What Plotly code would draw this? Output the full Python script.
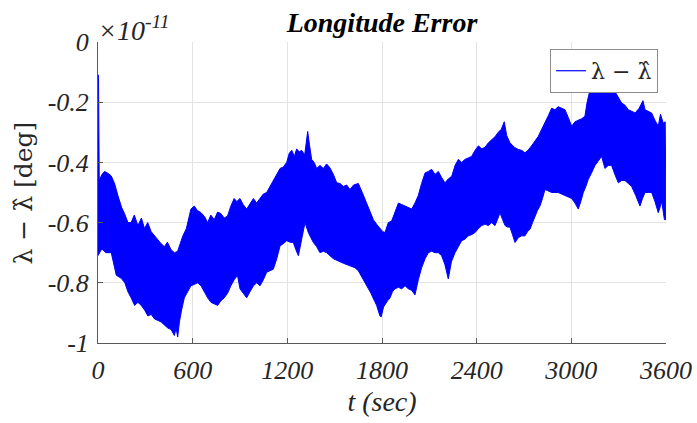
import plotly.graph_objects as go

# Upper envelope of the noisy error signal (time in s, value in units of 1e-11 deg)
t_upper = [0, 3, 8, 25, 42, 60, 84, 105, 126, 150, 168, 190, 210, 230, 253, 275, 295, 315, 337, 360,
           379, 400, 421, 440, 463, 485, 505, 520, 537, 560, 575, 589, 610, 630, 653, 675, 695, 715, 737, 758,
           779, 800, 821, 842, 863, 880, 900, 920, 942, 965, 985, 1005, 1027, 1048, 1069, 1090, 1111, 1133, 1154, 1175,
           1196, 1212, 1228, 1245, 1259, 1275, 1291, 1310, 1329, 1340, 1354, 1370, 1386, 1407, 1428, 1449, 1470, 1492, 1513, 1534,
           1555, 1576, 1597, 1620, 1650, 1675, 1703, 1725, 1745, 1765, 1787, 1805, 1819, 1840, 1861, 1882, 1904, 1925, 1946, 1967,
           1988, 2009, 2030, 2051, 2073, 2094, 2115, 2136, 2157, 2178, 2199, 2220, 2242, 2263, 2284, 2305, 2326, 2347, 2368, 2390,
           2411, 2432, 2453, 2474, 2495, 2516, 2537, 2556, 2575, 2590, 2611, 2640, 2664, 2685, 2706, 2725, 2748, 2769, 2791, 2812,
           2833, 2854, 2875, 2896, 2917, 2938, 2960, 2980, 3002, 3023, 3044, 3065, 3086, 3100, 3118, 3140, 3171, 3200, 3224, 3250,
           3277, 3298, 3319, 3340, 3361, 3382, 3404, 3430, 3454, 3467, 3488, 3509, 3530, 3551, 3565, 3583, 3595]
v_upper = [-0.11, -0.11, -0.46, -0.44, -0.43, -0.435, -0.445, -0.47, -0.51, -0.55, -0.57, -0.60, -0.60, -0.575, -0.61, -0.585, -0.62, -0.60, -0.63, -0.645,
           -0.66, -0.67, -0.68, -0.665, -0.69, -0.70, -0.695, -0.67, -0.645, -0.62, -0.58, -0.555, -0.545, -0.56, -0.567, -0.58, -0.60, -0.575, -0.59, -0.565,
           -0.57, -0.585, -0.578, -0.545, -0.52, -0.53, -0.52, -0.54, -0.555, -0.535, -0.52, -0.535, -0.52, -0.505, -0.50, -0.48, -0.457, -0.44, -0.42, -0.415,
           -0.40, -0.37, -0.36, -0.38, -0.355, -0.365, -0.36, -0.375, -0.297, -0.34, -0.39, -0.40, -0.42, -0.41, -0.42, -0.405, -0.418, -0.44, -0.468, -0.47,
           -0.48, -0.475, -0.49, -0.475, -0.47, -0.50, -0.535, -0.565, -0.59, -0.605, -0.62, -0.63, -0.633, -0.60, -0.595, -0.565, -0.535, -0.54, -0.545, -0.55,
           -0.555, -0.535, -0.51, -0.47, -0.435, -0.43, -0.423, -0.44, -0.43, -0.45, -0.468, -0.455, -0.446, -0.41, -0.39, -0.40, -0.39, -0.385, -0.38, -0.36,
           -0.345, -0.355, -0.35, -0.335, -0.325, -0.315, -0.30, -0.29, -0.265, -0.31, -0.335, -0.35, -0.357, -0.36, -0.368, -0.36, -0.345, -0.33, -0.313, -0.29,
           -0.27, -0.245, -0.22, -0.225, -0.215, -0.22, -0.225, -0.25, -0.28, -0.265, -0.26, -0.255, -0.247, -0.20, -0.16, -0.15, -0.145, -0.14, -0.145, -0.15,
           -0.165, -0.185, -0.203, -0.21, -0.225, -0.23, -0.236, -0.22, -0.195, -0.225, -0.23, -0.236, -0.26, -0.28, -0.24, -0.27, -0.265]

# Lower envelope
t_lower = [0, 5, 20, 30, 50, 84, 100, 116, 147, 170, 190, 210, 232, 253, 274, 295, 316, 337, 358, 380,
           400, 421, 442, 463, 484, 495, 505, 516, 530, 547, 568, 589, 610, 632, 653, 674, 695, 716, 737, 758,
           779, 800, 821, 842, 863, 884, 900, 921, 942, 963, 985, 1006, 1027, 1048, 1069, 1090, 1111, 1133, 1154, 1175,
           1196, 1217, 1238, 1254, 1270, 1291, 1312, 1333, 1349, 1365, 1386, 1407, 1428, 1449, 1470, 1492, 1513, 1534, 1555, 1576,
           1600, 1629, 1650, 1671, 1692, 1714, 1730, 1745, 1766, 1787, 1795, 1810, 1819, 1835, 1851, 1866, 1882, 1904, 1925, 1946,
           1967, 1988, 2009, 2030, 2051, 2073, 2094, 2115, 2136, 2157, 2178, 2199, 2220, 2240, 2263, 2284, 2305, 2326, 2347, 2368,
           2390, 2411, 2432, 2453, 2474, 2495, 2516, 2532, 2548, 2564, 2580, 2596, 2611, 2627, 2643, 2664, 2685, 2706, 2722, 2738,
           2754, 2769, 2785, 2801, 2817, 2833, 2854, 2875, 2896, 2917, 2938, 2960, 2981, 3002, 3023, 3044, 3060, 3076, 3092, 3107,
           3128, 3150, 3171, 3192, 3213, 3234, 3255, 3276, 3298, 3319, 3340, 3361, 3382, 3408, 3435, 3451, 3467, 3488, 3509, 3530,
           3551, 3562, 3573, 3590, 3600]
v_lower = [-0.71, -0.71, -0.69, -0.69, -0.70, -0.70, -0.74, -0.775, -0.785, -0.80, -0.83, -0.85, -0.875, -0.865, -0.875, -0.89, -0.91, -0.905, -0.92, -0.925,
           -0.93, -0.94, -0.95, -0.955, -0.975, -0.95, -0.98, -0.93, -0.89, -0.85, -0.83, -0.81, -0.805, -0.80, -0.81, -0.83, -0.85, -0.865, -0.87, -0.875,
           -0.86, -0.85, -0.835, -0.81, -0.79, -0.775, -0.82, -0.835, -0.85, -0.83, -0.81, -0.80, -0.81, -0.79, -0.765, -0.76, -0.755, -0.72, -0.677, -0.67,
           -0.66, -0.665, -0.666, -0.69, -0.71, -0.66, -0.60, -0.633, -0.65, -0.666, -0.68, -0.70, -0.695, -0.70, -0.71, -0.72, -0.725, -0.73, -0.735, -0.74,
           -0.745, -0.75, -0.76, -0.776, -0.80, -0.82, -0.835, -0.85, -0.875, -0.91, -0.913, -0.88, -0.875, -0.86, -0.85, -0.83, -0.82, -0.815, -0.82, -0.81,
           -0.82, -0.825, -0.84, -0.79, -0.75, -0.72, -0.70, -0.695, -0.70, -0.70, -0.71, -0.74, -0.787, -0.73, -0.70, -0.68, -0.66, -0.655, -0.644, -0.64,
           -0.633, -0.62, -0.61, -0.605, -0.61, -0.60, -0.61, -0.59, -0.567, -0.59, -0.61, -0.615, -0.615, -0.64, -0.666, -0.65, -0.644, -0.644, -0.63, -0.622,
           -0.60, -0.578, -0.56, -0.545, -0.52, -0.49, -0.495, -0.50, -0.50, -0.50, -0.505, -0.51, -0.515, -0.52, -0.535, -0.555, -0.53, -0.50, -0.48, -0.457,
           -0.435, -0.41, -0.395, -0.38, -0.42, -0.41, -0.41, -0.44, -0.468, -0.46, -0.46, -0.47, -0.48, -0.51, -0.545, -0.52, -0.50, -0.50, -0.50, -0.53,
           -0.567, -0.55, -0.53, -0.59, -0.59]

x_ticks = [0, 600, 1200, 1800, 2400, 3000, 3600]
y_ticks = [0, -0.2, -0.4, -0.6, -0.8, -1]
y_tick_labels = ["0", "-0.2", "-0.4", "-0.6", "-0.8", "-1"]

BLUE = "#0000ff"
SERIF = "Liberation Serif, Times New Roman, serif"
MATH = "DejaVu Serif, serif"
TXT = "#262626"

fig = go.Figure()
# noise band polygon: upper envelope then lower envelope reversed
fig.add_trace(go.Scatter(
    x=t_upper + t_lower[::-1], y=v_upper + v_lower[::-1],
    mode="lines", fill="toself", fillcolor=BLUE,
    line=dict(color=BLUE, width=1), showlegend=False, hoverinfo="skip"))
# legend entry
fig.add_trace(go.Scatter(x=[None], y=[None], mode="lines",
                         line=dict(color=BLUE, width=1.2), name="λ − λ̂"))

axis_common = dict(
    showgrid=True, gridcolor="#e3e3e3", gridwidth=1,
    zeroline=False, showline=True, linecolor="#595959", linewidth=1,
    ticks="inside", ticklen=5, tickcolor="#595959",
    tickfont=dict(family=SERIF, size=26, color=TXT, style="italic"),
    mirror=False, automargin=False,
)

fig.update_xaxes(range=[0, 3600], tickvals=x_ticks, ticktext=[str(v) for v in x_ticks],
                 title=dict(text="t (sec)", font=dict(family=SERIF, size=28, color=TXT, style="italic"),
                            standoff=7),
                 ticklabelstandoff=4, **axis_common)
fig.update_yaxes(range=[-1, 0], tickvals=y_ticks, ticktext=y_tick_labels,
                 ticklabelstandoff=3, **axis_common)

fig.update_layout(
    width=697, height=423,
    margin=dict(l=98, r=31, t=42, b=80),
    plot_bgcolor="white", paper_bgcolor="white",
    title=dict(text="<b><i>Longitude Error</i></b>", xref="paper", x=0.5, xanchor="center",
               yref="container", y=1 - 22 / 423, yanchor="middle",
               font=dict(family=SERIF, size=28, color="#000000")),
    legend=dict(x=0.986, xanchor="right", y=0.977, yanchor="top",
                bgcolor="white", bordercolor="#8c8c8c", borderwidth=1,
                font=dict(family=MATH, size=22, color=TXT),
                itemwidth=30, tracegroupgap=0),
    showlegend=True,
)

# y-axis title (rotated)
fig.add_annotation(text="λ − λ̂ [deg]", xref="paper", yref="paper",
                   x=0, y=0.5, xanchor="center", yanchor="middle",
                   xshift=-75, yshift=-1, textangle=-90, showarrow=False,
                   font=dict(family=MATH, size=25, color=TXT))
# exponent label
fig.add_annotation(text="×10<sup>-11</sup>", xref="paper", yref="paper",
                   x=0, y=1, xanchor="left", yanchor="bottom", yshift=-6, xshift=-2,
                   showarrow=False,
                   font=dict(family=SERIF, size=28, color=TXT, style="italic"))

fig.write_html("out.html", config={"displayModeBar": False},
               post_script="document.body.style.margin='0';")
